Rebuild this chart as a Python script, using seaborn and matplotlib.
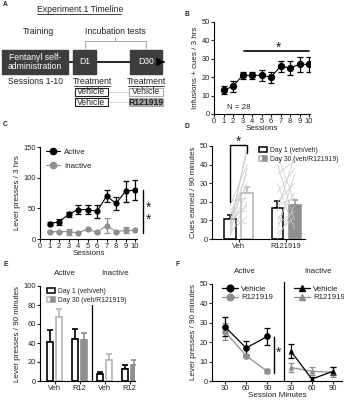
import numpy as np
import pandas as pd
import matplotlib
matplotlib.use("Agg")
import matplotlib.pyplot as plt
import seaborn as sns
from matplotlib.patches import Rectangle, Patch
from matplotlib.lines import Line2D
from matplotlib.legend_handler import HandlerTuple

# ---------------- data ----------------
sessions = [1, 2, 3, 4, 5, 6, 7, 8, 9, 10]
b_mean = [13, 15, 21, 21, 21, 20, 26, 25, 27, 27]
b_sem = [2, 3, 2, 2, 3, 3, 3, 4, 4, 4]

c_active = [25, 28, 40, 48, 48, 45, 70, 58, 78, 80]
c_active_sem = [2, 5, 4, 7, 7, 10, 10, 10, 17, 17]
c_inactive = [12, 12, 12, 10, 16, 11, 22, 12, 14, 14]
c_inactive_sem = [1, 1, 5, 1, 1, 1, 12, 1, 5, 1]

d_groups = ["Veh", "R121919"]
day_labels = ["Day 1 (veh/veh)", "Day 30 (veh/R121919)"]
d_day1 = [10.5, 16.5]
d_day1_sem = [2.5, 4.0]
d_day30 = [24.5, 18.5]
d_day30_sem = [3.5, 2.5]
# individual rats (day1, day30), estimated
veh_ind_day1 = [5, 8, 3, 12, 10, 15, 6, 20, 2, 9, 14, 4, 18, 11]
veh_ind_day30 = [50, 47, 38, 35, 30, 28, 25, 22, 20, 18, 15, 12, 40, 8]
r12_ind_day1 = [45, 40, 35, 30, 25, 20, 15, 10, 8, 5, 3, 12, 18, 0]
r12_ind_day30 = [20, 10, 42, 5, 38, 30, 45, 25, 15, 35, 12, 8, 22, 18]

e_groups = ["Veh", "R12", "Veh", "R12"]
e_day1 = [41, 44, 7, 13]
e_day1_sem = [13, 11, 3, 4]
e_day30 = [67, 43, 22, 17]
e_day30_sem = [9, 8, 6, 5]

f_minutes = ["30", "60", "90"]
f_act_veh = [28, 17, 23]
f_act_veh_sem = [5, 3.5, 4.5]
f_act_r12 = [25.5, 13, 5]
f_act_r12_sem = [4.5, 1, 1]
f_inact_veh = [15.5, 1, 5]
f_inact_veh_sem = [3.5, 1, 2]
f_inact_r12 = [7, 5, 4.5]
f_inact_r12_sem = [2.5, 2, 2.5]

# ---------------- style ----------------
sns.set_theme(style="ticks")
plt.rcParams["font.family"] = ["Liberation Sans", "DejaVu Sans"]
TICK_FS = 5.4
LAB_FS = 5.8
LEG_FS = 5.7
BAR_LEG_FS = 4.9
plt.rcParams.update({
    "axes.linewidth": 0.8,
    "xtick.major.width": 0.8, "ytick.major.width": 0.8,
    "xtick.major.size": 2, "ytick.major.size": 2,
    "xtick.major.pad": 1, "ytick.major.pad": 1,
    "xtick.labelsize": TICK_FS, "ytick.labelsize": TICK_FS,
    "axes.labelsize": LAB_FS, "axes.labelpad": 1.5,
    "text.color": "#222222", "axes.labelcolor": "#222222",
    "xtick.color": "#222222", "ytick.color": "#222222",
    "axes.edgecolor": "black",
})

W, H = 344, 400
fig = plt.figure(figsize=(W / 100, H / 100), dpi=100)

def axpx(l, t, r, b):
    return fig.add_axes([l / W, 1 - b / H, (r - l) / W, (b - t) / H])

def ftext(x, y, s, **kw):
    fig.text(x / W, 1 - y / H, s, **kw)

def clean(ax):
    sns.despine(ax=ax)

BLACK = "black"
GRAY = "#8f8f8f"
LGRAY = "#b5b5b5"

# panel letters
for letter, (x, y) in {"A": (3, 5), "B": (185, 14), "C": (3, 125),
                       "D": (185, 126), "E": (3, 265), "F": (175, 265)}.items():
    ftext(x, y, letter, fontsize=4.8, fontweight="bold", va="center", ha="left")

# ---------------- Panel A ----------------
axA = axpx(0, 0, 172, 115)
axA.set_xlim(0, 172)
axA.set_ylim(115, 0)
axA.axis("off")
fs = 6.2
axA.text(80, 9, "Experiment 1 Timeline", ha="center", va="center", fontsize=fs)
axA.plot([37, 121], [13.5, 13.5], color="#222222", lw=0.6)
axA.text(38, 32, "Training", ha="center", va="center", fontsize=fs)
axA.text(115, 32, "Incubation tests", ha="center", va="center", fontsize=fs)
axA.plot([85, 85, 146, 146], [48, 41, 41, 48], color="#aaaaaa", lw=0.7)
axA.plot([115, 115], [41, 37], color="#aaaaaa", lw=0.7)
axA.plot([68, 163], [62, 62], color="black", lw=1.2, zorder=1)
axA.annotate("", xy=(167, 62), xytext=(161, 62),
             arrowprops=dict(arrowstyle="-|>,head_length=0.35,head_width=0.2", color="black", lw=1))
dark = "#3d3d3d"
for (x0, x1, lab) in [(2, 68, "Fentanyl self-\nadministration"), (73, 96, "D1"), (130, 162, "D30")]:
    axA.add_patch(Rectangle((x0, 50), x1 - x0, 24, facecolor=dark, edgecolor=dark, zorder=2))
    axA.text((x0 + x1) / 2, 62, lab, ha="center", va="center", color="white", fontsize=fs,
             zorder=3, linespacing=1.1)
axA.text(35, 81, "Sessions 1-10", ha="center", va="center", fontsize=fs)
for cx in (92, 146):
    axA.text(cx, 81, "Treatment", ha="center", va="center", fontsize=fs)
    axA.plot([cx - 18, cx + 18], [85.5, 85.5], color="#222222", lw=0.6)
axA.add_patch(Rectangle((75, 87.5), 33, 8, facecolor="white", edgecolor="#222222", lw=0.8))
axA.text(91.5, 91.7, "Vehicle", ha="center", va="center", fontsize=fs)
axA.add_patch(Rectangle((75, 98), 33, 8, facecolor="white", edgecolor="#222222", lw=0.8))
axA.text(91.5, 102.2, "Vehicle", ha="center", va="center", fontsize=fs)
axA.add_patch(Rectangle((129, 87.5), 34, 8, facecolor="white", edgecolor="#aaaaaa", lw=0.8))
axA.text(146, 91.7, "Vehicle", ha="center", va="center", fontsize=fs)
axA.add_patch(Rectangle((129, 98), 34, 8, facecolor="#a8a8a8", edgecolor="#a8a8a8", lw=0.8))
axA.text(146, 102.2, "R121919", ha="center", va="center", fontsize=fs, fontweight="bold")
axA.plot([109, 128], [91.5, 91.5], color="#aaaaaa", lw=0.6, ls=(0, (1, 1)))
axA.plot([109, 128], [102, 102], color="#aaaaaa", lw=0.6, ls=(0, (1, 1)))

# ---------------- Panel B ----------------
axB = axpx(214, 22, 310, 114)
dfB = pd.DataFrame({"session": sessions, "value": b_mean})
axB.errorbar(sessions, b_mean, yerr=b_sem, fmt="none", ecolor=BLACK, elinewidth=0.9,
             capsize=2.5, capthick=0.9, zorder=2)
sns.lineplot(data=dfB, x="session", y="value", ax=axB, color=BLACK, lw=0.8,
             marker="o", markersize=4.5, markeredgecolor=BLACK, zorder=3)
axB.set_xlim(0, 10.1)
axB.set_ylim(0, 50)
axB.set_xticks(range(0, 11))
axB.set_yticks(range(0, 51, 10))
axB.set_xlabel("Sessions", labelpad=0)
axB.set_ylabel("Infusions + cues / 3 hrs")
axB.plot([3.2, 10], [34.4, 34.4], color=BLACK, lw=1.2)
axB.text(6.8, 36, "*", ha="center", va="center", fontsize=10)
axB.text(1.4, 3.5, "N = 28", ha="left", va="center", fontsize=LEG_FS)
clean(axB)

# ---------------- Panel C ----------------
axC = axpx(40, 147, 137, 239)
dfC = pd.DataFrame({"session": sessions * 2,
                    "value": c_active + c_inactive,
                    "lever": ["Active"] * 10 + ["Inactive"] * 10})
axC.errorbar(sessions, c_inactive, yerr=c_inactive_sem, fmt="none", ecolor=GRAY,
             elinewidth=0.9, capsize=2.5, capthick=0.9, zorder=2)
axC.errorbar(sessions, c_active, yerr=c_active_sem, fmt="none", ecolor=BLACK,
             elinewidth=0.9, capsize=2.5, capthick=0.9, zorder=2)
sns.lineplot(data=dfC, x="session", y="value", hue="lever", ax=axC,
             palette={"Active": BLACK, "Inactive": GRAY}, lw=0.8, marker="o",
             markersize=4.5, markeredgecolor="none", legend=False, zorder=3)
axC.set_xlim(0, 10.2)
axC.set_ylim(0, 150)
axC.set_xticks(range(0, 11))
axC.set_yticks([0, 50, 100, 150])
axC.set_xlabel("Sessions", labelpad=0)
axC.set_ylabel("Lever presses / 3 hrs")
hC = [Line2D([], [], color=BLACK, marker="o", markersize=4.5, lw=0.8),
      Line2D([], [], color=GRAY, marker="o", markersize=4.5, lw=0.8)]
axC.legend(hC, ["Active", "Inactive"], loc="upper left", bbox_to_anchor=(0.02, 1.03),
           frameon=False, fontsize=LEG_FS, handlelength=1.8, handletextpad=0.5,
           labelspacing=0.8, borderpad=0)
axC.plot([10.85, 10.85], [9, 80], color=BLACK, lw=1.0, clip_on=False)
axC.text(11.4, 41, "*\n*", ha="center", va="center", fontsize=10, linespacing=0.75,
         clip_on=False)
clean(axC)

# ---------------- bar helper ----------------
def bar_panel(ax, cats, d1, d1s, d30, d30s, d30_fill, d30_edge, lw):
    df = pd.DataFrame({"cat": list(range(len(cats))) * 2,
                       "value": d1 + d30,
                       "day": [day_labels[0]] * len(cats) + [day_labels[1]] * len(cats)})
    sns.barplot(data=df, x="cat", y="value", hue="day", hue_order=day_labels,
                width=0.72, gap=0.3, errorbar=None, legend=False, ax=ax,
                palette=["white", "white"], zorder=2)
    bars = sorted(ax.patches, key=lambda p: p.get_x())
    centers = []
    for i, p in enumerate(bars):
        ci, hi = i // 2, i % 2
        cx = p.get_x() + p.get_width() / 2
        centers.append(cx)
        if hi == 0:
            p.set_facecolor("white"); p.set_edgecolor(BLACK); ec = BLACK
            err = d1s[ci]
        else:
            p.set_facecolor(d30_fill[ci]); p.set_edgecolor(d30_edge[ci]); ec = d30_edge[ci]
            err = d30s[ci]
        p.set_linewidth(lw)
        ax.errorbar([cx], [p.get_height()], yerr=[[0], [err]], fmt="none", ecolor=ec,
                    elinewidth=lw, capsize=2, capthick=lw, zorder=1)
    return centers

legend_kw = dict(handler_map={tuple: HandlerTuple(ndivide=None, pad=0)},
                 loc="upper left", frameon=False, fontsize=BAR_LEG_FS,
                 handlelength=1.2, handleheight=0.8, handletextpad=0.35,
                 labelspacing=0.3, borderpad=0)

# ---------------- Panel D ----------------
axD = axpx(212, 146, 305, 239)
cD = bar_panel(axD, d_groups, d_day1, d_day1_sem, d_day30, d_day30_sem,
               ["white", GRAY], [LGRAY, GRAY], 1.1)
for a, b in zip(veh_ind_day1, veh_ind_day30):
    axD.plot([cD[0], cD[1]], [a, b], color="#c8c8c8", lw=0.5, zorder=3)
for a, b in zip(r12_ind_day1, r12_ind_day30):
    axD.plot([cD[2], cD[3]], [a, b], color="#c8c8c8", lw=0.5, zorder=3)
axD.set_xlim(-0.56, 1.4)
axD.set_ylim(0, 50)
axD.set_yticks(range(0, 51, 10))
axD.set_xticks([0, 1])
axD.set_xticklabels(d_groups)
axD.set_xlabel("")
axD.set_ylabel("Cues earned / 90 minutes")
axD.plot([cD[0], cD[0], cD[1], cD[1]], [20, 50.5, 50.5, 46], color=BLACK, lw=1.0,
         clip_on=False, zorder=4)
axD.text(0, 52.5, "*", ha="center", va="center", fontsize=10, clip_on=False)
hD = [Patch(facecolor="white", edgecolor=BLACK, lw=1.1),
      (Patch(facecolor="white", edgecolor=LGRAY, lw=1.1), Patch(facecolor=GRAY, edgecolor=GRAY, lw=1.1))]
axD.legend(hD, day_labels, bbox_to_anchor=(0.47, 1.03), **legend_kw)
clean(axD)

# ---------------- Panel E ----------------
axE = axpx(40, 286, 135, 381)
cE = bar_panel(axE, e_groups, e_day1, e_day1_sem, e_day30, e_day30_sem,
               ["white", GRAY, "white", GRAY], [LGRAY, GRAY, LGRAY, GRAY], 1.2)
axE.set_xlim(-0.58, 3.22)
axE.set_ylim(0, 100)
axE.set_yticks(range(0, 101, 20))
axE.set_xticks(range(4))
axE.set_xticklabels(e_groups)
axE.set_xlabel("")
axE.set_ylabel("Lever presses / 90 minutes")
axE.plot([1.5, 1.5], [0, 80], color=BLACK, lw=0.9)
axE.text(0.42, 1.13, "Active", transform=axE.get_xaxis_transform(), ha="center",
         va="center", fontsize=LAB_FS)
axE.text(2.42, 1.13, "Inactive", transform=axE.get_xaxis_transform(), ha="center",
         va="center", fontsize=LAB_FS)
axE.legend(hD, day_labels, bbox_to_anchor=(0.04, 1.02), **legend_kw)
clean(axE)

# ---------------- Panel F ----------------
axF = axpx(212, 284, 342, 381)
x_act = [0, 1, 2]
x_inact = [3.1, 4.1, 5.1]
dfF = pd.DataFrame({
    "x": x_act * 2 + x_inact * 2,
    "value": f_act_veh + f_act_r12 + f_inact_veh + f_inact_r12,
    "series": ["act_veh"] * 3 + ["act_r12"] * 3 + ["inact_veh"] * 3 + ["inact_r12"] * 3,
})
for xs, ys, es, col in [(x_act, f_act_r12, f_act_r12_sem, GRAY),
                        (x_act, f_act_veh, f_act_veh_sem, BLACK),
                        (x_inact, f_inact_r12, f_inact_r12_sem, GRAY),
                        (x_inact, f_inact_veh, f_inact_veh_sem, BLACK)]:
    axF.errorbar(xs, ys, yerr=es, fmt="none", ecolor=col, elinewidth=0.9,
                 capsize=2.5, capthick=0.9, zorder=2)
pal = {"act_veh": BLACK, "act_r12": GRAY, "inact_veh": BLACK, "inact_r12": GRAY}
for s, m in [("act_r12", "o"), ("act_veh", "o"), ("inact_r12", "^"), ("inact_veh", "^")]:
    sns.lineplot(data=dfF[dfF.series == s], x="x", y="value", ax=axF, color=pal[s],
                 lw=0.9, marker=m, markersize=4.8, markeredgecolor="none", zorder=3)
axF.set_xlim(-0.61, 5.52)
axF.set_ylim(0, 50)
axF.set_yticks(range(0, 51, 10))
axF.set_xticks(x_act + x_inact)
axF.set_xticklabels(f_minutes * 2)
axF.set_xlabel("Session Minutes", labelpad=0)
axF.set_ylabel("Lever presses / 90 minutes")
axF.plot([2.78, 2.78], [0, 51], color=BLACK, lw=0.9, clip_on=False)
axF.plot([2.31, 2.31], [4, 22.7], color=BLACK, lw=1.0)
axF.text(2.55, 14.4, "*", ha="center", va="center", fontsize=10)
axF.text(0.95, 1.13, "Active", transform=axF.get_xaxis_transform(), ha="center",
         va="center", fontsize=LAB_FS)
axF.text(4.4, 1.13, "Inactive", transform=axF.get_xaxis_transform(), ha="center",
         va="center", fontsize=LAB_FS)
hF1 = [Line2D([], [], color=BLACK, marker="o", markersize=4.8, lw=0.9),
       Line2D([], [], color=GRAY, marker="o", markersize=4.8, lw=0.9)]
hF2 = [Line2D([], [], color=BLACK, marker="^", markersize=4.8, lw=0.9),
       Line2D([], [], color=GRAY, marker="^", markersize=4.8, lw=0.9)]
leg1 = axF.legend(hF1, ["Vehicle", "R121919"], loc="upper left", bbox_to_anchor=(0.05, 1.03),
                  frameon=False, fontsize=LEG_FS, handlelength=2.0, handletextpad=0.4,
                  labelspacing=0.15, borderpad=0)
axF.add_artist(leg1)
axF.legend(hF2, ["Vehicle", "R121919"], loc="upper left", bbox_to_anchor=(0.6, 1.03),
           frameon=False, fontsize=LEG_FS, handlelength=2.0, handletextpad=0.4,
           labelspacing=0.15, borderpad=0)
clean(axF)

fig.savefig("out.png", dpi=100)
